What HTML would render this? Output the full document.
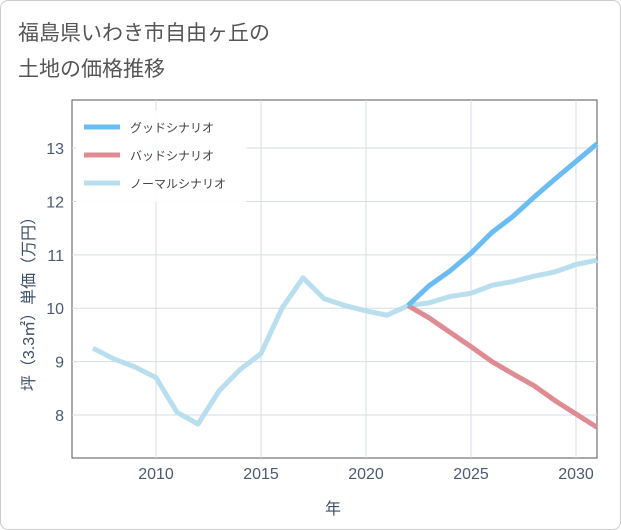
<!DOCTYPE html>
<html><head><meta charset="utf-8"><style>
body{margin:0;background:#fff;font-family:"Liberation Sans","Noto Sans CJK JP",sans-serif;}
.frame{position:absolute;left:0;top:0;width:619px;height:528px;border:1px solid #ccc;border-radius:8px;background:#fff;}
</style></head><body>
<div class="frame"></div>
<svg id="c" width="621" height="530" style="position:absolute;left:0;top:0">
<text x="18" y="40" font-size="21" fill="#555">福島県いわき市自由ヶ丘の</text>
<text x="18" y="76" font-size="21" fill="#555">土地の価格推移</text>
<g id="grid"></g><g id="lines"></g><g id="ticks"></g>
<text x="333" y="514" font-size="16" fill="#3d4f66" text-anchor="middle">年</text>
<text transform="translate(34,300) rotate(-90)" font-size="16" fill="#3d4f66" text-anchor="middle">坪（3.3㎡）単価（万円）</text>
<g>
<rect x="76" y="110" width="170" height="92" fill="#fff" opacity="0.9"/>
<line x1="84" y1="127" x2="120" y2="127" stroke="#6bbcf2" stroke-width="5"/>
<text x="130" y="132" font-size="12" fill="#444">グッドシナリオ</text>
<line x1="84" y1="155" x2="120" y2="155" stroke="#de8c93" stroke-width="5"/>
<text x="130" y="160" font-size="12" fill="#444">バッドシナリオ</text>
<line x1="84" y1="183" x2="120" y2="183" stroke="#b9dfee" stroke-width="5"/>
<text x="130" y="188" font-size="12" fill="#444">ノーマルシナリオ</text>
</g>
</svg>
<script>
const normalYears=[2007,2008,2009,2010,2011,2012,2013,2014,2015,2016,2017,2018,2019,2020,2021,2022,2023,2024,2025,2026,2027,2028,2029,2030,2031];
const normalVals=[9.25,9.05,8.9,8.7,8.05,7.83,8.45,8.85,9.15,10.0,10.57,10.18,10.05,9.95,9.87,10.05,10.1,10.22,10.28,10.43,10.5,10.6,10.68,10.82,10.9];
const futureYears=[2022,2023,2024,2025,2026,2027,2028,2029,2030,2031];
const goodVals=[10.05,10.42,10.7,11.03,11.42,11.72,12.08,12.42,12.75,13.08];
const badVals=[10.05,9.82,9.55,9.28,9.0,8.77,8.55,8.27,8.02,7.77];
const xTicks=[2010,2015,2020,2025,2030];
const yTicks=[8,9,10,11,12,13];
const L=72,R=597,T=100,B=458,x0=2006,x1=2031,y0=7.195,y1=13.9;
const X=v=>L+(v-x0)/(x1-x0)*(R-L);
const Y=v=>B-(v-y0)/(y1-y0)*(B-T);
const NS="http://www.w3.org/2000/svg";
function mk(p,t,a){const e=document.createElementNS(NS,t);for(const k in a)e.setAttribute(k,a[k]);p.appendChild(e);return e;}
const g=document.getElementById('grid'),ln=document.getElementById('lines'),tk=document.getElementById('ticks');
const frame=mk(g,'rect',{x:L,y:T,width:R-L,height:B-T,fill:'none',stroke:'#555','stroke-width':1});


xTicks.forEach(v=>{const l=mk(g,'line',{x1:X(v),x2:X(v),y1:T,y2:B,stroke:'#d5dde5'});


const t=mk(tk,'text',{x:X(v),y:B+21,'font-size':16,fill:'#4a5a70','text-anchor':'middle'});t.textContent=v;

});
yTicks.forEach(v=>{const l=mk(g,'line',{x1:L,x2:R,y1:Y(v),y2:Y(v),stroke:'#d5dde5'});


const t=mk(tk,'text',{x:L-8,y:Y(v)+6,'font-size':16,fill:'#4a5a70','text-anchor':'end'});t.textContent=v;

});
function path(xs,vs,c,name){const d=xs.map((x,i)=>(i?'L':'M')+X(x).toFixed(1)+','+Y(vs[i]).toFixed(1)).join('');
const p=mk(ln,'path',{d:d,fill:'none',stroke:c,'stroke-width':5,'stroke-linejoin':'round'});

}
path(normalYears,normalVals,'#b9dfee','normal-line');
path(futureYears,badVals,'#de8c93','bad-line');
path(futureYears,goodVals,'#6bbcf2','good-line');
</script>
</body></html>
